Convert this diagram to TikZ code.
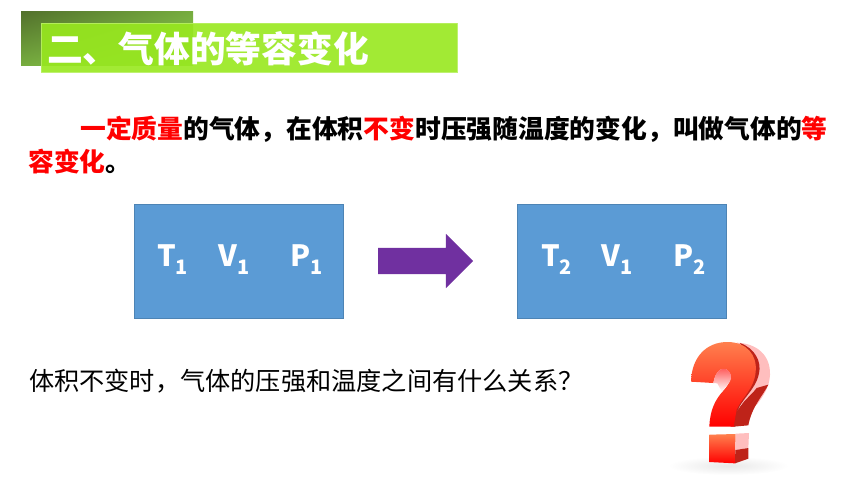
\documentclass[tikz,border=0pt]{standalone}
\usepackage{fontspec}
\setmainfont{Noto Sans CJK SC}
\usetikzlibrary{shapes.arrows,shadings}
\definecolor{barGreen}{RGB}{152,232,30}
\definecolor{boxBlue}{RGB}{91,155,213}
\definecolor{arrowPurple}{RGB}{112,48,160}
\definecolor{darkLeaf}{RGB}{82,112,44}
\definecolor{midLeaf}{RGB}{118,172,62}
\definecolor{lightLeaf}{RGB}{142,204,84}
\definecolor{markTop}{RGB}{255,128,78}
\definecolor{markPink}{RGB}{255,190,190}
\definecolor{markDark}{RGB}{190,35,25}
\tikzset{
    x=0.3mm,y=-0.3mm,
    headtext/.style={anchor=base west,inner sep=0pt,font=\fontsize{30.5pt}{30.5pt}\bfseries,text=white},
    bodytext/.style={anchor=base west,inner sep=0pt,font=\fontsize{22pt}{22pt}\bfseries},
    asktext/.style={anchor=base west,inner sep=0pt,font=\fontsize{21.5pt}{21.5pt}\selectfont},
    statebox/.style={draw=boxBlue!85!black,line width=0.5pt,fill=boxBlue,anchor=north west,inner sep=0pt,minimum width=6.27cm,minimum height=3.42cm},
    statelabel/.style={anchor=base west,inner sep=0pt,text=white,font=\fontsize{25pt}{25pt}\bfseries}
}
\newcommand{\lowidx}[1]{\raisebox{-0.28em}{\fontsize{17pt}{17pt}\selectfont #1}}
\begin{document}
\begin{tikzpicture}
    \useasboundingbox (0,0) rectangle (860,484);

    % title bar
    \shade[upper left=darkLeaf,lower left=midLeaf,upper right=midLeaf,lower right=lightLeaf] (21,11) rectangle (193,65);
    \fill[barGreen,opacity=0.9,draw=barGreen!70!white,line width=0.5pt] (41,23) rectangle (457,72);
    \node[headtext] (title) at (47,62) {二、气体的等容变化};

    % definition
    \node[bodytext] (lineA) at (80,138) {\textcolor{red}{一定质量}的气体，在体积\textcolor{red}{不变}时压强随温度的变化，叫做气体的\textcolor{red}{等}};
    \node[bodytext] (lineB) at (28,171) {\textcolor{red}{容变化}。};

    % the two states
    \node[statebox] (boxL) at (134,204) {};
    \node[statebox] (boxR) at (517,204) {};
    \node[statelabel] (tL) at (157,266) {T\lowidx{1}};
    \node[statelabel] (vL) at (218,266) {V\lowidx{1}};
    \node[statelabel] (pL) at (290,266) {P\lowidx{1}};
    \node[statelabel] (tR) at (541,266) {T\lowidx{2}};
    \node[statelabel] (vR) at (601,266) {V\lowidx{1}};
    \node[statelabel] (pR) at (673,266) {P\lowidx{2}};
    \node[single arrow,fill=arrowPurple,inner xsep=0pt,inner ysep=0.39cm,minimum height=2.85cm,single arrow head extend=0.42cm,single arrow head indent=0cm] (stepArrow) at (419,261) {};

    \node[asktext] (ask) at (29,390) {体积不变时，气体的压强和温度之间有什么关系？};

    % question mark
    \begin{scope}[shift={(640,320)},x=0.1mm,y=-0.1mm]
        \shade[inner color=black!9,outer color=white] (265,437) ellipse (180 and 28);
        % back of the hook
        \fill[markPink] (290,68) .. controls (350,70) and (392,105) .. (390,165) .. controls (388,200) and (372,225) .. (350,255) -- (300,250) -- (340,120) -- cycle;
        \fill[markDark] (385,194) .. controls (370,225) and (335,260) .. (325,316) -- (281,320) -- (288,280) .. controls (305,245) and (335,225) .. (350,204) -- cycle;
        \fill[markDark] (300,69) .. controls (345,85) and (365,125) .. (357,160) .. controls (347,210) and (305,235) .. (292,275) -- (285,320) -- (272,320) -- (280,270) -- (340,150) -- cycle;
        % front of the hook
        \shade[top color=markTop,bottom color=red]
            (153,185) .. controls (155,110) and (200,66) .. (262,66) .. controls (320,66) and (352,105) .. (347,155)
            .. controls (343,205) and (308,230) .. (290,268) -- (281,320) -- (208,320)
            .. controls (210,270) and (225,240) .. (250,212) .. controls (272,188) and (280,165) .. (262,150)
            .. controls (245,138) and (225,155) .. (220,189) -- cycle;
        \shade[top color=red!70!white,bottom color=white] (220,189) .. controls (225,155) and (245,138) .. (262,150) .. controls (274,158) and (276,172) .. (270,184) .. controls (262,196) and (252,205) .. (246,216) -- (232,190) -- cycle;
        % dot
        \shade[top color=markTop,bottom color=red] (208,344) -- (287,342) -- (285,430) -- (208,426) -- cycle;
        \fill[markPink] (287,341) -- (327,339) -- (325,384) -- (286,390) -- cycle;
        \fill[markDark] (286,390) -- (325,384) -- (325,416) -- (285,430) -- cycle;
    \end{scope}
\end{tikzpicture}
\end{document}
